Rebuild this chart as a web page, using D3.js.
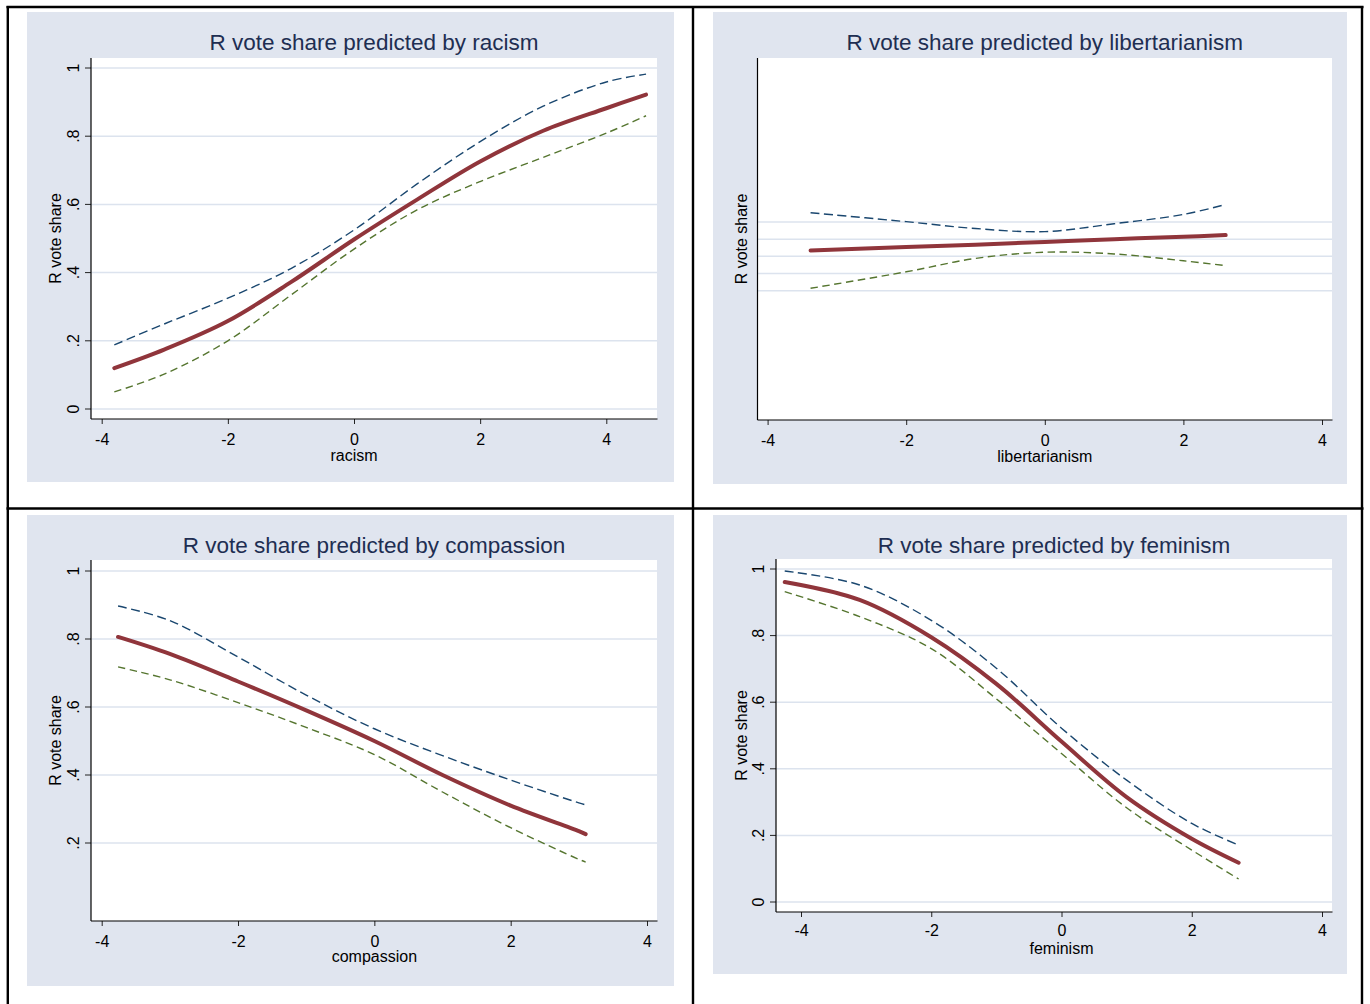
<!DOCTYPE html>
<html>
<head>
<meta charset="utf-8">
<script src="https://d3js.org/d3.v7.min.js"></script>
<style>
  body { margin: 0; background: #fff; }
  text { font-family: "Liberation Sans", Arial, sans-serif; }
</style>
</head>
<body>
<svg id="vis" width="1370" height="1004"></svg>
<script>
  // ---- data ----
  var xTicks = [-4, -2, 0, 2, 4]
  var yTicks = [0, 0.2, 0.4, 0.6, 0.8, 1]
  var yTickLabels = ["0", ".2", ".4", ".6", ".8", "1"]

  // racism
  var racismX   = [-3.8, -3, -2, -1, 0, 1, 2, 3, 4, 4.63]
  var racismFit = [0.12, 0.175, 0.258, 0.372, 0.497, 0.614, 0.726, 0.816, 0.882, 0.922]
  var racismHi  = [0.188, 0.25, 0.325, 0.412, 0.525, 0.66, 0.784, 0.888, 0.959, 0.982]
  var racismLo  = [0.05, 0.103, 0.20, 0.334, 0.469, 0.584, 0.667, 0.738, 0.809, 0.86]

  // libertarianism
  var libX   = [-3.38, -2, -1, 0, 1, 2, 2.61]
  var libFit = [0.517, 0.527, 0.534, 0.542, 0.55, 0.557, 0.562]
  var libHi  = [0.627, 0.601, 0.581, 0.572, 0.595, 0.622, 0.651]
  var libLo  = [0.407, 0.455, 0.494, 0.512, 0.507, 0.487, 0.473]
  var libGrid = [0.4, 0.45, 0.5, 0.55, 0.6]

  // compassion
  var compX   = [-3.76, -3, -2, -1, 0, 1, 2, 3, 3.1]
  var compFit = [0.806, 0.756, 0.675, 0.59, 0.50, 0.40, 0.31, 0.235, 0.226]
  var compHi  = [0.897, 0.854, 0.747, 0.635, 0.536, 0.457, 0.385, 0.318, 0.312]
  var compLo  = [0.718, 0.68, 0.613, 0.54, 0.46, 0.35, 0.245, 0.152, 0.144]

  // feminism
  var femX   = [-4.25, -3.1, -2, -1, 0, 1, 2, 2.72]
  var femFit = [0.961, 0.907, 0.795, 0.655, 0.482, 0.315, 0.19, 0.118]
  var femHi  = [0.994, 0.952, 0.846, 0.702, 0.522, 0.366, 0.236, 0.171]
  var femLo  = [0.932, 0.857, 0.761, 0.61, 0.446, 0.283, 0.156, 0.069]

  var svg = d3.select('#vis')

  var panels = [
    { title: "R vote share predicted by racism", xlab: "racism",
      x: racismX, fit: racismFit, hi: racismHi, lo: racismLo,
      yt: yTicks, ytl: yTickLabels, grid: yTicks,
      bg: [27, 12, 674, 482], plot: [91, 58, 657, 419],
      xr: [101.7, 606.3], yd: [0, 1], yr: [409, 68],
      titleY: 42, tickY: 445, xlabY: 461, ytitX: 61, ytlX: 79 },
    { title: "R vote share predicted by libertarianism", xlab: "libertarianism",
      x: libX, fit: libFit, hi: libHi, lo: libLo,
      yt: [], ytl: [], grid: libGrid,
      bg: [713, 12, 1347, 484], plot: [757.5, 58, 1332, 420],
      xr: [767.6, 1322], yd: [0.4, 0.6], yr: [290.7, 222],
      titleY: 42, tickY: 445.5, xlabY: 461.5, ytitX: 746.5, ytlX: 0 },
    { title: "R vote share predicted by compassion", xlab: "compassion",
      x: compX, fit: compFit, hi: compHi, lo: compLo,
      yt: yTicks.slice(1), ytl: yTickLabels.slice(1), grid: yTicks.slice(1),
      bg: [27, 515, 674, 986], plot: [91, 560, 657, 921],
      xr: [101.7, 647], yd: [0, 1], yr: [911, 571],
      titleY: 545, tickY: 947, xlabY: 962, ytitX: 61, ytlX: 79 },
    { title: "R vote share predicted by feminism", xlab: "feminism",
      x: femX, fit: femFit, hi: femHi, lo: femLo,
      yt: yTicks, ytl: yTickLabels, grid: yTicks,
      bg: [713, 515, 1347, 974], plot: [776, 559, 1332, 912],
      xr: [801, 1322], yd: [0, 1], yr: [902, 569],
      titleY: 545, tickY: 936, xlabY: 954, ytitX: 746.5, ytlX: 764 }
  ]

  panels.forEach(drawPanel)

  // table frame
  var frame = svg.append('g').attr('stroke', '#000').attr('stroke-width', 2.4)
  frame.append('line').attr('x1', 6.5).attr('x2', 1363.5).attr('y1', 7).attr('y2', 7)
  frame.append('line').attr('x1', 6.5).attr('x2', 1363.5).attr('y1', 508.5).attr('y2', 508.5)
  frame.append('line').attr('x1', 7.8).attr('x2', 7.8).attr('y1', 6).attr('y2', 1004)
  frame.append('line').attr('x1', 693).attr('x2', 693).attr('y1', 6).attr('y2', 1004)
  frame.append('line').attr('x1', 1362).attr('x2', 1362).attr('y1', 6).attr('y2', 1004)

  function drawPanel(p) {
    var g = svg.append('g')
    var L = p.plot[0], T = p.plot[1], R = p.plot[2], B = p.plot[3]

    var x = d3.scaleLinear().domain([-4, 4]).range(p.xr)
    var y = d3.scaleLinear().domain(p.yd).range(p.yr)

    // graph region + plot region
    g.append('rect')
      .attr('x', p.bg[0]).attr('y', p.bg[1])
      .attr('width', p.bg[2] - p.bg[0]).attr('height', p.bg[3] - p.bg[1])
      .attr('fill', '#E0E5EF')
    g.append('rect')
      .attr('x', L).attr('y', T).attr('width', R - L).attr('height', B - T)
      .attr('fill', '#fff')

    // grid lines
    g.selectAll('line.grid').data(p.grid).enter()
      .append('line').attr('class', 'grid')
      .attr('x1', L).attr('x2', R)
      .attr('y1', function(d){ return y(d) }).attr('y2', function(d){ return y(d) })
      .attr('stroke', '#DCE3EE').attr('stroke-width', 1.5)

    // x axis
    var xa = g.append('g').attr('transform', 'translate(0,' + B + ')')
      .call(d3.axisBottom(x).tickValues(xTicks).tickSize(5).tickPadding(0)
        .tickFormat(function(d){ return String(d) }))
    xa.attr('font-size', 16).attr('font-family', '"Liberation Sans", Arial, sans-serif')
    xa.select('.domain').remove()
    xa.selectAll('.tick line').attr('stroke', '#222')
    xa.selectAll('.tick text').attr('y', p.tickY - B).attr('dy', null).attr('fill', '#000')

    // y ticks (rotated labels)
    var yt = g.selectAll('g.ytick').data(p.yt).enter().append('g').attr('class', 'ytick')
    yt.append('line')
      .attr('x1', L - 6).attr('x2', L)
      .attr('y1', function(d){ return y(d) }).attr('y2', function(d){ return y(d) })
      .attr('stroke', '#222')
    yt.append('text')
      .attr('transform', function(d){ return 'translate(' + p.ytlX + ',' + y(d) + ') rotate(-90)' })
      .attr('text-anchor', 'middle').attr('font-size', 16).attr('fill', '#000')
      .text(function(d, i){ return p.ytl[i] })

    // axis lines
    g.append('line').attr('x1', L).attr('x2', R + 0.5).attr('y1', B).attr('y2', B)
      .attr('stroke', '#000').attr('stroke-width', 1.2)
    g.append('line').attr('x1', L).attr('x2', L).attr('y1', T).attr('y2', B)
      .attr('stroke', '#000').attr('stroke-width', 1.2)

    // series
    var rows = p.x.map(function(v, i){ return { x: v, fit: p.fit[i], hi: p.hi[i], lo: p.lo[i] } })
    function path(key) {
      return d3.line().curve(d3.curveCatmullRom.alpha(0.5))
        .x(function(d){ return x(d.x) })
        .y(function(d){ return y(d[key]) })(rows)
    }
    g.append('path').attr('d', path('hi')).attr('fill', 'none')
      .attr('stroke', '#1A476F').attr('stroke-width', 1.4).attr('stroke-dasharray', '9,4.5')
    g.append('path').attr('d', path('lo')).attr('fill', 'none')
      .attr('stroke', '#55752F').attr('stroke-width', 1.4).attr('stroke-dasharray', '7.5,4.5')
    g.append('path').attr('d', path('fit')).attr('fill', 'none')
      .attr('stroke', '#90353B').attr('stroke-width', 4).attr('stroke-linecap', 'round')

    // titles
    g.append('text').attr('x', (L + R) / 2).attr('y', p.titleY).attr('dy', '0.36em')
      .attr('text-anchor', 'middle').attr('font-size', 22.5).attr('fill', '#1E2E52')
      .text(p.title)
    g.append('text').attr('x', x(0)).attr('y', p.xlabY)
      .attr('text-anchor', 'middle').attr('font-size', 16).attr('fill', '#000')
      .text(p.xlab)
    g.append('text')
      .attr('transform', 'translate(' + p.ytitX + ',' + (T + B) / 2 + ') rotate(-90)')
      .attr('text-anchor', 'middle').attr('font-size', 16).attr('fill', '#000')
      .text('R vote share')
  }
</script>
</body>
</html>
